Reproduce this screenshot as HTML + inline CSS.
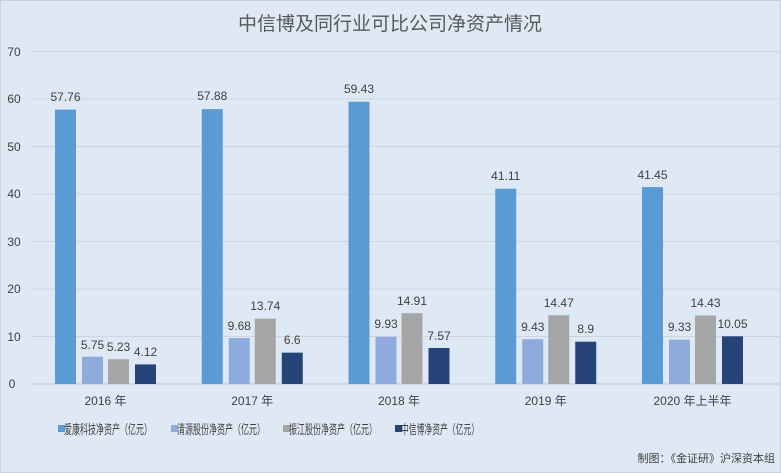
<!DOCTYPE html>
<html><head><meta charset="utf-8"><style>
body{margin:0;width:781px;height:473px;overflow:hidden;background:#dfe9f5}
svg{display:block}
text{font-family:"Liberation Sans","Noto Sans CJK SC",sans-serif;fill:#404040}
</style></head><body>
<svg width="781" height="473" viewBox="0 0 781 473">
<rect x="0.5" y="0.5" width="780" height="472" fill="#dfe9f5" stroke="#c9d3de"/>
<text x="390" y="30" text-anchor="middle" font-size="19" style="fill:#595959">中信博及同行业可比公司净资产情况</text>
<g stroke="#cfd5dc" stroke-width="1">
<line x1="32" x2="780" y1="51.5" y2="51.5"/><line x1="32" x2="780" y1="99" y2="99"/>
<line x1="32" x2="780" y1="146.5" y2="146.5"/><line x1="32" x2="780" y1="194" y2="194"/>
<line x1="32" x2="780" y1="241.5" y2="241.5"/><line x1="32" x2="780" y1="289" y2="289"/>
<line x1="32" x2="780" y1="336.5" y2="336.5"/><line x1="32" x2="780" y1="384" y2="384" stroke="#bfc6cf"/>
</g>
<g font-size="12" text-anchor="middle">
<text x="14" y="56">70</text><text x="14" y="103">60</text><text x="14" y="151">50</text>
<text x="14" y="198">40</text><text x="14" y="246">30</text><text x="14" y="293">20</text>
<text x="14" y="341">10</text><text x="12" y="388">0</text>
</g>
<g>
<rect x="55" y="109.6" width="21" height="274.4" fill="#5b9bd5"/>
<rect x="82" y="356.7" width="21" height="27.3" fill="#8faadc"/>
<rect x="108" y="359.2" width="21" height="24.8" fill="#a5a5a5"/>
<rect x="135" y="364.4" width="21" height="19.6" fill="#264478"/>
<rect x="201.75" y="109.1" width="21" height="274.9" fill="#5b9bd5"/>
<rect x="228.75" y="338" width="21" height="46" fill="#8faadc"/>
<rect x="254.75" y="318.7" width="21" height="65.3" fill="#a5a5a5"/>
<rect x="281.75" y="352.65" width="21" height="31.35" fill="#264478"/>
<rect x="348.5" y="101.7" width="21" height="282.3" fill="#5b9bd5"/>
<rect x="375.5" y="336.8" width="21" height="47.2" fill="#8faadc"/>
<rect x="401.5" y="313.2" width="21" height="70.8" fill="#a5a5a5"/>
<rect x="428.5" y="348" width="21" height="36" fill="#264478"/>
<rect x="495.25" y="188.7" width="21" height="195.3" fill="#5b9bd5"/>
<rect x="522.25" y="339.2" width="21" height="44.8" fill="#8faadc"/>
<rect x="548.25" y="315.3" width="21" height="68.7" fill="#a5a5a5"/>
<rect x="575.25" y="341.7" width="21" height="42.3" fill="#264478"/>
<rect x="642" y="187.1" width="21" height="196.9" fill="#5b9bd5"/>
<rect x="669" y="339.7" width="21" height="44.3" fill="#8faadc"/>
<rect x="695" y="315.5" width="21" height="68.5" fill="#a5a5a5"/>
<rect x="722" y="336.3" width="21" height="47.7" fill="#264478"/>
</g>
<g font-size="12" text-anchor="middle">
<text x="65.5" y="101">57.76</text><text x="92.5" y="349">5.75</text><text x="118.5" y="351">5.23</text><text x="145.5" y="356">4.12</text>
<text x="212.25" y="100">57.88</text><text x="239.25" y="330">9.68</text><text x="265.25" y="310">13.74</text><text x="292.25" y="344">6.6</text>
<text x="359" y="93">59.43</text><text x="386" y="328">9.93</text><text x="412" y="305">14.91</text><text x="439" y="340">7.57</text>
<text x="505.75" y="180">41.11</text><text x="532.75" y="331">9.43</text><text x="558.75" y="307">14.47</text><text x="585.75" y="333">8.9</text>
<text x="652.5" y="179">41.45</text><text x="679.5" y="331">9.33</text><text x="705.5" y="307">14.43</text><text x="732.5" y="328">10.05</text>
</g>
<g font-size="12" text-anchor="middle">
<text x="105.5" y="405">2016 年</text><text x="252.25" y="405">2017 年</text><text x="399" y="405">2018 年</text>
<text x="545.75" y="405">2019 年</text><text x="692.5" y="405">2020 年上半年</text>
</g>
<g font-size="13">
<rect x="58" y="425" width="7" height="7" fill="#5b9bd5"/><text x="64" y="434" textLength="88" lengthAdjust="spacingAndGlyphs">爱康科技净资产（亿元）</text>
<rect x="171" y="425" width="7" height="7" fill="#8faadc"/><text x="177" y="434" textLength="88" lengthAdjust="spacingAndGlyphs">清源股份净资产（亿元）</text>
<rect x="283" y="425" width="7" height="7" fill="#a5a5a5"/><text x="289" y="434" textLength="88" lengthAdjust="spacingAndGlyphs">振江股份净资产（亿元）</text>
<rect x="395" y="425" width="7" height="7" fill="#264478"/><text x="401" y="434" textLength="78" lengthAdjust="spacingAndGlyphs">中信博净资产（亿元）</text>
</g>
<text x="775" y="462" font-size="11" text-anchor="end">制图：《金证研》沪深资本组</text>
</svg>
</body></html>
